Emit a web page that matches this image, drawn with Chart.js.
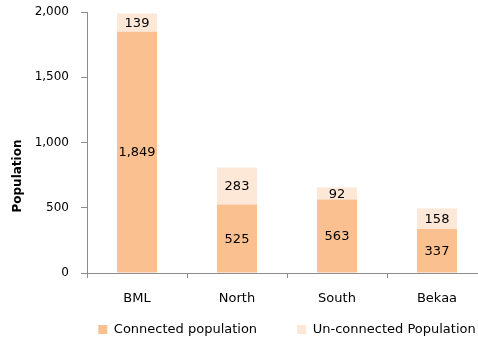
<!DOCTYPE html>
<html>
<head>
<meta charset="utf-8">
<script src="https://cdn.jsdelivr.net/npm/chart.js@4"></script>
<style>
	html, body { margin: 0; padding: 0; background: #fff; overflow: hidden; }
	#wrap { width: 500px; height: 339px; }
</style>
</head>
<body>
<div id="wrap"><canvas id="chart"></canvas></div>
<script>
// Regions and population counts
const regions = ['BML', 'North', 'South', 'Bekaa'];
const connected = [1849, 525, 563, 337];
const unconnected = [139, 283, 92, 158];
const yTicks = [0, 500, 1000, 1500, 2000];
const yTitle = 'Population';

const FONT = 'DejaVu Sans';
const GREY = '#8c8c8c';

// Draw the value in the middle of every bar segment, plus the y-axis title
// (drawn by hand because it sits below the middle of the axis in the original)
const segmentLabels = {
	id: 'segmentLabels',
	afterDatasetsDraw(chart) {
		const ctx = chart.ctx;
		ctx.save();
		ctx.font = `13px "${FONT}"`;
		ctx.fillStyle = '#000';
		ctx.textAlign = 'center';
		ctx.textBaseline = 'middle';
		chart.data.datasets.forEach((ds, i) => {
			chart.getDatasetMeta(i).data.forEach((bar, j) => {
				const p = bar.getCenterPoint();
				ctx.fillText(ds.data[j].toLocaleString('en-US'), p.x, p.y + 1);
			});
		});

		const area = chart.chartArea;
		ctx.font = `bold 12px "${FONT}"`;
		ctx.translate(18, area.bottom - 97);
		ctx.rotate(-Math.PI / 2);
		ctx.fillText(yTitle, 0, 0);
		ctx.restore();
	},
};

new Chart(document.getElementById('chart'), {
	type: 'bar',
	data: {
		labels: regions,
		datasets: [
			{
				label: 'Connected population',
				data: connected,
				backgroundColor: 'rgb(250, 192, 143)',
				borderWidth: 0,
			},
			{
				label: 'Un-connected Population',
				data: unconnected,
				backgroundColor: 'rgb(253, 232, 216)',
				borderWidth: 0,
			},
		],
	},
	options: {
		responsive: true,
		maintainAspectRatio: false,
		animation: false,
		datasets: {
			bar: { categoryPercentage: 0.4, barPercentage: 1 },
		},
		layout: {
			padding: { top: 12, left: 0, right: 13, bottom: -7 },
		},
		scales: {
			x: {
				stacked: true,
				border: { color: GREY },
				grid: { drawOnChartArea: false, color: GREY, tickLength: 5 },
				ticks: { color: '#000', padding: 13, font: { family: FONT, size: 13 } },
				afterFit: (scale) => { scale.height = 40; },
			},
			y: {
				stacked: true,
				min: 0,
				max: 2000,
				afterBuildTicks: (scale) => { scale.ticks = yTicks.map((v) => ({ value: v })); },
				border: { color: GREY },
				grid: { drawOnChartArea: false, color: GREY, tickLength: 6 },
				ticks: {
					color: '#000',
					padding: 12,
					font: { family: FONT, size: 12 },
					callback: (v) => v.toLocaleString('en-US'),
				},
				afterFit: (scale) => {
					scale.width = 87;
					scale.paddingTop = 0;
					scale.paddingBottom = 0;
				},
			},
		},
		plugins: {
			legend: {
				position: 'bottom',
				fullSize: false,
				labels: {
					color: '#000',
					boxWidth: 9,
					boxHeight: 9,
					padding: 10,
					font: { family: FONT, size: 13 },
					// widen the gap after the first entry, as in the original
					generateLabels: (chart) => {
						const items = Chart.defaults.plugins.legend.labels.generateLabels(chart);
						items[0].text += '\u2003\u2003 ';
						return items;
					},
				},
			},
			tooltip: { enabled: false },
		},
	},
	plugins: [segmentLabels],
});
</script>
</body>
</html>
